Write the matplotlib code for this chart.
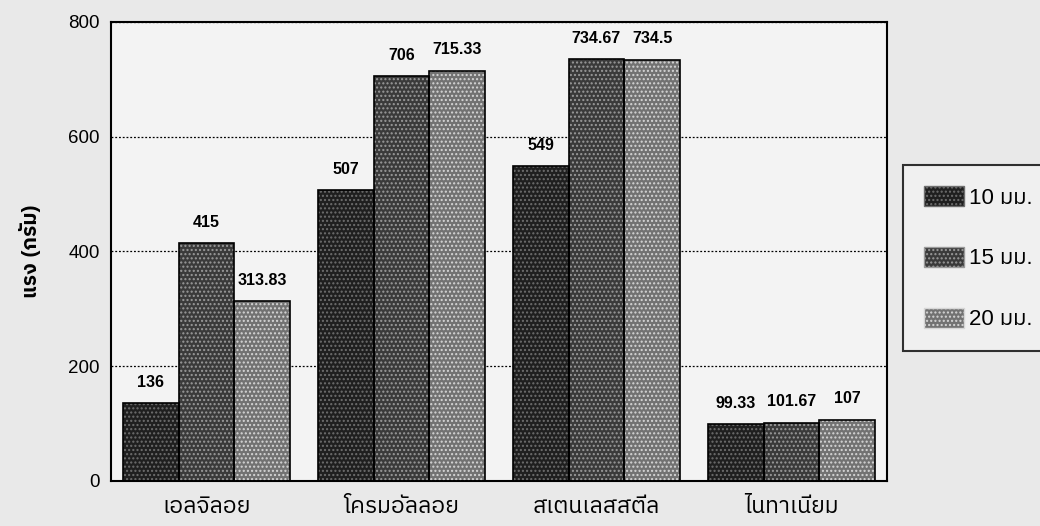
import numpy as np
import matplotlib
matplotlib.use('Agg')
import matplotlib.pyplot as plt
from matplotlib import font_manager
from matplotlib.ft2font import FT2Font
from matplotlib.patches import Patch

# ข้อมูล
materials = ['เอลจิลอย', 'โครมอัลลอย', 'สเตนเลสสตีล', 'ไนทาเนียม']
sizes = ['10 มม.', '15 มม.', '20 มม.']
force_10 = [136, 507, 549, 99.33]
force_15 = [415, 706, 734.67, 101.67]
force_20 = [313.83, 715.33, 734.5, 107]
y_ticks = [0, 200, 400, 600, 800]


def thai_family():
    # หาฟอนต์ที่มีอักษรไทย
    found = []
    for f in font_manager.fontManager.ttflist:
        try:
            cmap = FT2Font(f.fname).get_charmap()
        except Exception:
            continue
        if 0x0E01 in cmap and 0x0E21 in cmap:
            found.append(f.name)
    for pref in ['Thai', 'Loma', 'Garuda', 'Norasi', 'Sawasdee']:
        for n in found:
            if pref in n:
                return n
    return found[0] if found else 'DejaVu Sans'


fam = ['Liberation Sans', thai_family(), 'DejaVu Sans']
plt.rcParams['font.family'] = fam
plt.rcParams['hatch.linewidth'] = 1.0

face = ['#1f1f1f', '#3a3a3a', '#727272']
dots = ['#6e6e6e', '#9a9a9a', '#d6d6d6']
series = [force_10, force_15, force_20]

fig = plt.figure(figsize=(10.4, 5.26), dpi=100, facecolor='#e9e9e9')
ax = fig.add_axes([0.1067, 0.0856, 0.7462, 0.8726])
ax.set_facecolor('#f3f3f3')

x = np.arange(len(materials))
w = 0.286
for i, vals in enumerate(series):
    pos = x + (i - 1) * w
    ax.bar(pos, vals, w, color=face[i], linewidth=0, zorder=2)
    ax.bar(pos, vals, w, facecolor='none', edgecolor=dots[i], hatch='....',
           linewidth=0, zorder=3)
    ax.bar(pos, vals, w, facecolor='none', edgecolor='black', linewidth=1.2,
           zorder=4)
    for xp, v in zip(pos, vals):
        ax.annotate(f'{v:g}', (xp, v), xytext=(0, 15), textcoords='offset points',
                    ha='center', va='center', fontsize=11.5, fontweight='bold',
                    zorder=5)

ax.set_xlim(-0.49, 3.49)
ax.set_ylim(0, 800)
ax.set_yticks(y_ticks)
ax.set_yticklabels([str(t) for t in y_ticks], fontsize=13.5)
ax.set_xticks(x)
ax.set_xticklabels(materials, fontsize=16.5)
ax.tick_params(axis='both', length=0, pad=8)
ax.tick_params(axis='x', pad=10)
ax.yaxis.grid(True, linestyle=(0, (1.5, 1.5)), color='black', linewidth=0.9,
              zorder=1)
ax.set_axisbelow(True)
for s in ax.spines.values():
    s.set_linewidth(1.5)

ax.set_ylabel('แรง (กรัม)', fontsize=15, fontweight='bold', labelpad=20)

handles = [Patch(facecolor=face[i], edgecolor='black', hatch='....',
                 linewidth=1.0) for i in range(3)]
leg = fig.legend(handles, sizes, loc='upper left',
                 bbox_to_anchor=(903 / 1040, 1 - 165 / 526), fontsize=16,
                 frameon=True, fancybox=False, edgecolor='black',
                 borderpad=0.95, labelspacing=1.72, handlelength=1.8,
                 handleheight=1.0, handletextpad=0.2, borderaxespad=0)
leg.get_frame().set_linewidth(1.5)
leg.get_frame().set_facecolor('#f3f3f3')
for h, c in zip(leg.legend_handles, dots):
    h.set_edgecolor(c)

fig.savefig('out.png', dpi=100, facecolor=fig.get_facecolor())
